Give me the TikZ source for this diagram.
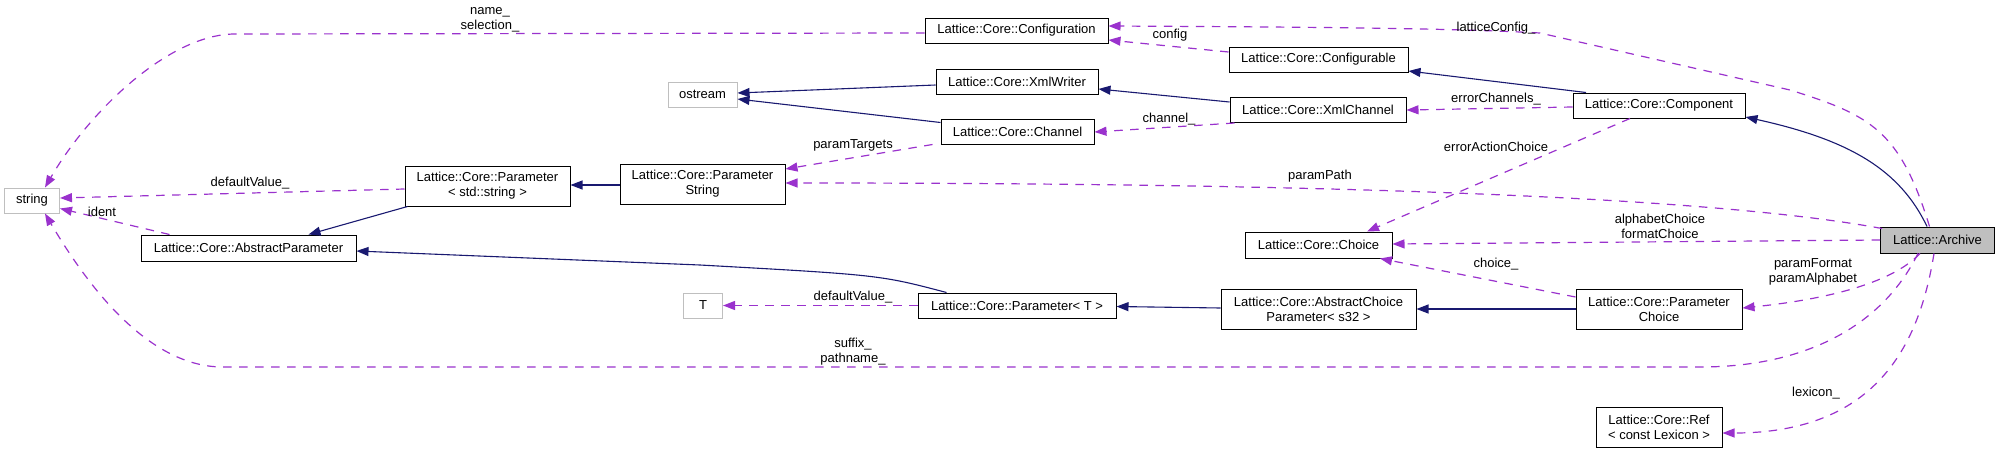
\documentclass[tikz,border=0pt]{standalone}
\usepackage{fontspec}
\setmainfont{Liberation Sans}
\usetikzlibrary{arrows.meta,calc}
\definecolor{inhcol}{HTML}{191970}
\definecolor{depcol}{HTML}{9A32CD}
\definecolor{extgray}{HTML}{BFBFBF}
\begin{document}
\begin{tikzpicture}[x=1pt,y=-1pt,
  font=\fontsize{13}{15}\selectfont,
  box/.style={draw=black, line width=1pt, inner sep=0pt, align=center, fill=white},
  extbox/.style={box, draw=extgray},
  inh/.style={draw=inhcol, line width=1.1pt, -{Triangle[length=12pt,width=9pt,fill=inhcol]}},
  dep/.style={draw=depcol, line width=1.2pt, dash pattern=on 8.5pt off 7.5pt, -{Triangle[length=12pt,width=9pt,fill=depcol]}},
  lbl/.style={inner sep=0pt, align=center}]
\useasboundingbox (0,0) rectangle (2000,453);

% nodes
\node[box, minimum width=183pt, minimum height=25pt] (conf) at (1016.5,30.5) {Lattice::Core::Configuration};
\node[box, minimum width=179pt, minimum height=25pt] (cfgable) at (1318.5,59.5) {Lattice::Core::Configurable};
\node[extbox, minimum width=69pt, minimum height=25pt] (ostream) at (702.5,94.5) {ostream};
\node[box, minimum width=162pt, minimum height=25pt] (xmlw) at (1017,81.5) {Lattice::Core::XmlWriter};
\node[box, minimum width=176pt, minimum height=25pt] (xmlch) at (1318,110) {Lattice::Core::XmlChannel};
\node[box, minimum width=172pt, minimum height=25pt] (comp) at (1659,105.5) {Lattice::Core::Component};
\node[box, minimum width=153pt, minimum height=25pt] (chan) at (1017.5,131.5) {Lattice::Core::Channel};
\node[box, minimum width=165pt, minimum height=40pt] (pstr) at (702.5,184) {Lattice::Core::Parameter\\String};
\node[box, minimum width=165pt, minimum height=40pt] (pss) at (487.5,186) {Lattice::Core::Parameter\\< std::string >};
\node[extbox, minimum width=55pt, minimum height=25pt] (str) at (32,200.5) {string};
\node[box, minimum width=215pt, minimum height=26pt] (absp) at (248.5,248) {Lattice::Core::AbstractParameter};
\node[box, minimum width=147pt, minimum height=26pt] (choice) at (1318.5,245) {Lattice::Core::Choice};
\node[box, fill=extgray, minimum width=114pt, minimum height=26pt] (archive) at (1937.5,240) {Lattice::Archive};
\node[extbox, minimum width=39pt, minimum height=25pt] (T) at (703,305.5) {T};
\node[box, minimum width=198pt, minimum height=25pt] (pT) at (1017,305.5) {Lattice::Core::Parameter< T >};
\node[box, minimum width=195pt, minimum height=40pt] (acp) at (1318.5,309) {Lattice::Core::AbstractChoice\\Parameter< s32 >};
\node[box, minimum width=166pt, minimum height=40pt] (pchoice) at (1659,309) {Lattice::Core::Parameter\\Choice};
\node[box, minimum width=126pt, minimum height=40pt] (ref) at (1659,427) {Lattice::Core::Ref\\< const Lexicon >};

% inheritance edges
\draw[inh] ($(comp.north)+(-73,0)$) -- ($(cfgable.east)+(0,11.5)$);
\draw[inh] ($(xmlch.west)+(0,-8)$) -- ($(xmlw.east)+(0,7.5)$);
\draw[inh] ($(xmlw.west)+(0,3.5)$) -- ($(ostream.east)+(0,-1.5)$);
\draw[inh] ($(chan.north west)+(0,4)$) -- ($(ostream.east)+(0,4.5)$);
\draw[inh] ($(pstr.west)+(0,1)$) -- ($(pss.east)+(0,-1)$);
\draw[inh] ($(pss.south west)+(3,0)$) -- ($(absp.north)+(60,0)$);
\draw[inh] ($(pT.north west)+(29,0)$) .. controls (880,275) .. (700,265) -- ($(absp.east)+(0,3)$);
\draw[inh] ($(acp.west)+(0,-1)$) -- ($(pT.east)+(0,1)$);
\draw[inh] (pchoice.west) -- (acp.east);
\draw[inh] ($(archive.north)+(-10.5,0)$) .. controls (1900,170) and (1850,140) .. ($(comp.east)+(0,11.5)$);

% usage edges
\draw[dep] ($(conf.west)+(0,2.5)$) -- (235,34) .. controls (170,34) and (90,110) .. ($(str.north)+(13,0)$);
\draw[dep] ($(archive.north)+(-8,0)$) .. controls (1900,130) and (1870,115) .. (1790,90) -- (1540,33) .. controls (1450,28) and (1300,27) .. ($(conf.east)+(0,-4.5)$);
\draw[dep] ($(cfgable.west)+(0,-7.5)$) -- ($(conf.east)+(0,9.5)$);
\draw[dep] ($(comp.west)+(0,1.5)$) -- (xmlch.east);
\draw[dep] ($(xmlch.south west)+(5,0)$) -- ($(chan.east)+(0,0.5)$);
\draw[dep] ($(chan.south west)+(-8,0)$) -- ($(pstr.east)+(0,-15)$);
\draw[dep] ($(archive.north west)+(2,2)$) .. controls (1700,195) and (1300,183) .. ($(pstr.east)+(0,-1)$);
\draw[dep] ($(pss.west)+(0,3)$) -- ($(str.east)+(0,-2.5)$);
\draw[dep] ($(absp.north west)+(29,0)$) -- ($(str.east)+(0,8)$);
\draw[dep] (pT.west) -- (T.east);
\draw[dep] ($(archive.south)+(-19.5,0)$) .. controls (1880,330) and (1800,367) .. (1700,367) -- (223,367) .. controls (150,367) and (90,290) .. ($(str.south)+(13,0)$);
\draw[dep] (archive.west) -- ($(choice.east)+(0,-1)$);
\draw[dep] ($(comp.south)+(-29,0)$) -- ($(choice.north)+(48.5,0)$);
\draw[dep] ($(pchoice.west)+(0,-12)$) -- ($(choice.south)+(61.5,0)$);
\draw[dep] ($(archive.south)+(-17.5,0)$) .. controls (1890,285) and (1820,300) .. ($(pchoice.east)+(0,-1)$);
\draw[dep] ($(archive.south)+(-3.5,0)$) .. controls (1920,340) and (1880,433) .. ($(ref.east)+(0,6)$);

% labels
\node[lbl] (l1) at (490,19.5) {name\_\\selection\_};
\node[lbl] (l2) at (1496,28) {latticeConfig\_};
\node[lbl] (l3) at (1170,35) {config};
\node[lbl] (l4) at (1496,99) {errorChannels\_};
\node[lbl] (l5) at (1169,119) {channel\_};
\node[lbl] (l6) at (853,145) {paramTargets};
\node[lbl] (l7) at (1496,147) {errorActionChoice};
\node[lbl] (l8) at (1320,176) {paramPath};
\node[lbl] (l9) at (250,183) {defaultValue\_};
\node[lbl] (l10) at (102,212) {ident};
\node[lbl] (l11) at (1660,226) {alphabetChoice\\formatChoice};
\node[lbl] (l12) at (1496,264) {choice\_};
\node[lbl] (l13) at (1813,272) {paramFormat\\paramAlphabet};
\node[lbl] (l14) at (853,297) {defaultValue\_};
\node[lbl] (l15) at (853,352) {suffix\_\\pathname\_};
\node[lbl] (l16) at (1816,393) {lexicon\_};
\end{tikzpicture}
\end{document}
